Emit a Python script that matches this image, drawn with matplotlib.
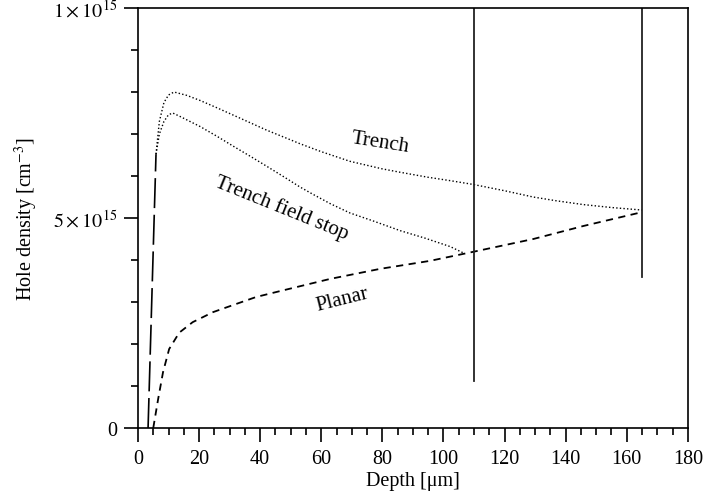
import matplotlib
matplotlib.use('Agg')
import matplotlib.pyplot as plt
from matplotlib.ticker import MultipleLocator, FixedLocator

plt.rcParams['font.family'] = ['Liberation Serif', 'DejaVu Serif']
plt.rcParams['mathtext.fontset'] = 'stix'

# steep common start near the surface (long dashes)
start_x = [3.3, 5.9]
start_y = [0.0, 6.52e15]

trench_x = [5.9, 7, 8.5, 10, 11.8, 16, 20.3, 26, 31.2, 37, 42.2, 50, 53, 60,
            69.4, 80, 85.8, 95, 102.2, 109.7, 120, 129.4, 137, 145.8, 155, 165]
trench_y = [6.52, 7.3, 7.75, 7.93, 8.0, 7.92, 7.80, 7.62, 7.45, 7.26, 7.09,
            6.86, 6.77, 6.58, 6.35, 6.17, 6.09, 5.97, 5.89, 5.8, 5.65, 5.5,
            5.41, 5.32, 5.25, 5.19]

tfs_x = [5.9, 7, 8.5, 10, 11.4, 14, 17, 20.3, 26, 31.2, 37, 42.2, 48, 53,
         57.4, 63, 69.4, 77, 85.8, 94, 102.2, 106.5]
tfs_y = [6.52, 7.0, 7.3, 7.46, 7.5, 7.41, 7.3, 7.18, 6.94, 6.71, 6.46, 6.23,
         5.97, 5.74, 5.56, 5.34, 5.12, 4.93, 4.70, 4.52, 4.32, 4.17]

planar_x = [5.0, 6.6, 8.2, 10.2, 13.5, 17.9, 24.6, 32, 38.7, 46.5, 62.9, 79.3,
            95.6, 109.4, 129.4, 145.8, 165]
planar_y = [0.0, 0.69, 1.33, 1.88, 2.27, 2.52, 2.76, 2.95, 3.12, 3.26, 3.55,
            3.79, 3.98, 4.19, 4.5, 4.81, 5.14]

# vertical markers: (depth, lower end, upper end)
markers = [(110, 1.12e15, 1e16), (165, 3.6e15, 1e16)]

fig = plt.figure(figsize=(7.04, 5.02), dpi=100)
ax = fig.add_axes([0.196, 0.1454, 0.781, 0.8366])

ax.plot(start_x, start_y, color='black', lw=1.2, linestyle=(0, (18, 4)))
ax.plot(trench_x, [v * 1e15 for v in trench_y], color='black', lw=1.0,
        linestyle=(0, (1, 1.6)))
ax.plot(tfs_x, [v * 1e15 for v in tfs_y], color='black', lw=1.0,
        linestyle=(0, (1, 1.6)))
ax.plot(planar_x, [v * 1e15 for v in planar_y], color='black', lw=1.3,
        linestyle=(0, (4, 3)))
for xm, y0, y1 in markers:
    ax.plot([xm, xm], [y0, y1], color='#222222', lw=1.3)

ax.text(79.3, 6.81e15, 'Trench', rotation=-9, fontsize=15, ha='center', va='center')
ax.text(47.0, 5.26e15, 'Trench field stop', rotation=-22, fontsize=15,
        ha='center', va='center')
ax.text(66.8, 3.07e15, 'Planar', rotation=14, fontsize=15, ha='center', va='center')

ax.set_xlim(0, 180)
ax.set_ylim(0, 1e16)
ax.xaxis.set_major_locator(MultipleLocator(20))
ax.xaxis.set_minor_locator(MultipleLocator(5))
ax.yaxis.set_major_locator(FixedLocator([0, 5e15, 1e16]))
ax.yaxis.set_minor_locator(MultipleLocator(1e15))
ax.set_yticklabels(['0', r'$5\times10^{15}$', r'$1\times10^{15}$'])

ax.tick_params(which='both', direction='out', top=False, right=False,
               labelsize=14.5, width=1.2)
ax.tick_params(which='major', length=10, pad=5)
ax.tick_params(which='minor', length=5)
for s in ax.spines.values():
    s.set_linewidth(1.2)

ax.set_xlabel('Depth [μm]', fontsize=14.5, labelpad=2)
ax.set_ylabel('Hole density [cm$^{-3}$]', fontsize=14.5, labelpad=9)

fig.savefig('out.png', dpi=100)
